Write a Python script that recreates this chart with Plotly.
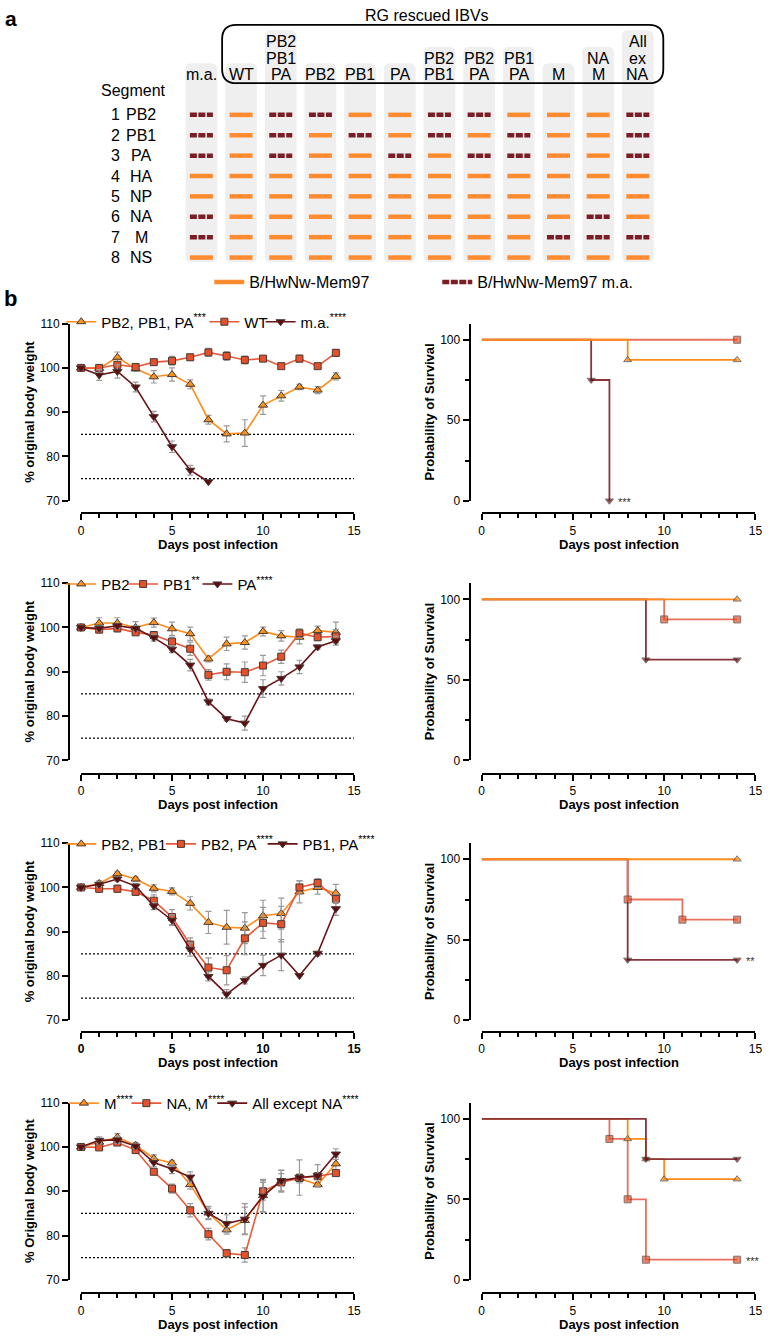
import plotly.graph_objects as go

W, H = 770, 1336
FONT = "Arial, Liberation Sans, sans-serif"

# ---------------- Panel a data ----------------
column_headers = [["m.a."], ["WT"], ["PB2", "PB1", "PA"], ["PB2"], ["PB1"], ["PA"],
                  ["PB2", "PB1"], ["PB2", "PA"], ["PB1", "PA"], ["M"], ["NA", "M"],
                  ["All", "ex", "NA"]]
segment_numbers = ["1", "2", "3", "4", "5", "6", "7", "8"]
segment_names = ["PB2", "PB1", "PA", "HA", "NP", "NA", "M", "NS"]
# 1 = segment from mouse-adapted virus (m.a.), 0 = parental B/HwNw-Mem97
ma_origin = [
    [1, 1, 1, 0, 0, 1, 1, 0],  # m.a.
    [0, 0, 0, 0, 0, 0, 0, 0],  # WT
    [1, 1, 1, 0, 0, 0, 0, 0],  # PB2 PB1 PA
    [1, 0, 0, 0, 0, 0, 0, 0],  # PB2
    [0, 1, 0, 0, 0, 0, 0, 0],  # PB1
    [0, 0, 1, 0, 0, 0, 0, 0],  # PA
    [1, 1, 0, 0, 0, 0, 0, 0],  # PB2 PB1
    [1, 0, 1, 0, 0, 0, 0, 0],  # PB2 PA
    [0, 1, 1, 0, 0, 0, 0, 0],  # PB1 PA
    [0, 0, 0, 0, 0, 0, 1, 0],  # M
    [0, 0, 0, 0, 0, 1, 1, 0],  # NA M
    [1, 1, 1, 0, 0, 0, 1, 0],  # All ex NA
]
legend_a = ["B/HwNw-Mem97", "B/HwNw-Mem97 m.a."]

# ---------------- Panel b data: body weight (mean, SEM) ----------------
days = list(range(15))

w1_names = ["PB2, PB1, PA<sup>***</sup>", "WT", "m.a.<sup>****</sup>"]
w1_a = [100, 99.9, 102.4, 99.8, 98.0, 98.5, 96.3, 88.3, 85.1, 85.3, 91.6, 93.7, 95.7, 95.0, 98.1]
e1_a = [0, 0.5, 1.2, 0.5, 1.4, 1.5, 1.0, 1.0, 1.8, 3.0, 2.1, 1.2, 0.6, 0.8, 0.8]
w1_b = [100, 100.0, 100.7, 100.2, 101.3, 101.6, 102.4, 103.5, 102.7, 101.8, 102.1, 100.4, 102.1, 100.4, 103.4]
e1_b = [0, 0.4, 0.6, 0.6, 0.5, 1.0, 0.7, 0.9, 1.0, 0.9, 0.6, 0.5, 0.8, 0.4, 0.8]
w1_c = [100, 98.4, 99.2, 95.7, 89.0, 82.2, 76.9, 74.3]
e1_c = [0, 1.2, 1.5, 1.1, 1.2, 1.3, 1.1, 0]

w2_names = ["PB2", "PB1<sup>**</sup>", "PA<sup>****</sup>"]
w2_a = [100, 101.0, 101.0, 100.0, 101.1, 99.7, 98.6, 92.9, 96.3, 96.6, 99.1, 98.1, 97.8, 99.3, 98.9]
e2_a = [0, 1.2, 1.2, 1.3, 1.0, 1.5, 1.5, 0.7, 1.5, 1.5, 1.0, 1.2, 1.5, 1.0, 2.3]
w2_b = [100, 99.5, 99.8, 98.9, 98.3, 96.8, 95.2, 89.3, 90.0, 89.9, 91.4, 93.4, 98.7, 97.8, 98.0]
e2_b = [0, 0.5, 0.8, 0.5, 0.6, 1.0, 1.5, 1.2, 1.8, 2.3, 2.3, 1.5, 1.0, 0.8, 1.5]
w2_c = [100, 99.8, 100.4, 99.8, 97.7, 95.1, 91.5, 83.2, 79.4, 78.4, 86.2, 88.5, 91.1, 95.6, 97.0]
e2_c = [0, 0.4, 0.5, 0.6, 0.8, 0.8, 1.3, 0.7, 0.5, 1.6, 2.0, 1.5, 1.5, 0.5, 1.0]

w3_names = ["PB2, PB1", "PB2, PA<sup>****</sup>", "PB1, PA<sup>****</sup>"]
w3_a = [100, 100.9, 103.1, 101.9, 99.8, 99.1, 96.4, 92.1, 91.0, 90.8, 93.6, 94.1, 99.0, 100.0, 98.7]
e3_a = [0, 0.6, 0.4, 0.5, 0.8, 0.8, 1.5, 2.5, 3.8, 3.5, 3.5, 3.5, 2.5, 1.5, 2.0]
w3_b = [100, 99.7, 99.7, 99.0, 97.0, 93.3, 87.1, 81.9, 81.3, 88.5, 92.0, 91.7, 100.0, 101.0, 97.4]
e3_b = [0, 0.8, 0.8, 0.8, 1.3, 1.7, 1.5, 2.2, 3.3, 3.7, 3.5, 4.0, 1.5, 1.0, 1.0]
w3_c = [100, 100.7, 101.9, 100.3, 95.8, 92.6, 86.0, 79.9, 75.9, 79.0, 82.4, 84.7, 80.1, 85.1, 95.2]
e3_c = [0, 0.5, 0.5, 0.6, 0.8, 1.2, 1.5, 1.0, 1.0, 0.8, 2.3, 3.5, 0, 0.5, 1.5]

w4_names = ["M<sup>****</sup>", "NA, M<sup>****</sup>", "All except NA<sup>****</sup>"]
w4_a = [100, 101.1, 102.2, 100.4, 97.4, 96.4, 91.5, 85.1, 81.3, 83.4, 89.0, 92.3, 92.9, 91.5, 96.2]
e4_a = [0, 0.8, 0.8, 0.6, 0.8, 0.6, 1.0, 1.5, 1.0, 3.0, 3.7, 2.5, 1.0, 0.5, 1.5]
w4_b = [100, 99.9, 101.0, 99.3, 94.4, 90.6, 85.7, 80.3, 76.0, 75.6, 90.0, 92.0, 93.0, 93.4, 94.1]
e4_b = [0, 0.4, 0.6, 0.7, 0.5, 1.0, 1.5, 1.3, 0.8, 1.6, 2.0, 2.0, 0.8, 0.5, 0.5]
w4_c = [100, 101.5, 101.6, 100.2, 96.5, 95.0, 93.2, 85.0, 82.7, 83.7, 88.9, 92.4, 93.1, 93.5, 98.4]
e4_c = [0, 0.8, 0.8, 0.5, 1.0, 1.0, 1.2, 1.2, 2.0, 3.5, 3.5, 2.3, 4.0, 2.5, 1.2]

# ---------------- Panel b data: survival (Kaplan-Meier steps) ----------------
s1_a_day, s1_a = [0, 8, 14], [100, 87.5, 87.5]
s1_b_day, s1_b = [0, 14], [100, 100]
s1_c_day, s1_c = [0, 6, 7], [100, 75, 0]

s2_a_day, s2_a = [0, 14], [100, 100]
s2_b_day, s2_b = [0, 10, 14], [100, 87.5, 87.5]
s2_c_day, s2_c = [0, 9, 14], [100, 62.5, 62.5]

s3_a_day, s3_a = [0, 14], [100, 100]
s3_b_day, s3_b = [0, 8, 11, 14], [100, 75, 62.5, 62.5]
s3_c_day, s3_c = [0, 8, 14], [100, 37.5, 37.5]

s4_a_day, s4_a = [0, 8, 9, 10, 14], [100, 87.5, 75, 62.5, 62.5]
s4_b_day, s4_b = [0, 7, 8, 9, 14], [100, 87.5, 50, 12.5, 12.5]
s4_c_day, s4_c = [0, 9, 14], [100, 75, 75]

survival_stars = ["***", "", "**", "***"]          # label text
survival_star_series = [2, None, 2, 1]             # which series carries it
weight_ytitles = ["% original body weight", "% original body weight",
                  "% original body weight", "% Original body weight"]

# ---------------- styling ----------------
ORANGE_BAR = "#FF8B30"
MAROON_BAR = "#7B1D25"
GREY_COL = "#EFEFEF"
LINE_COLORS = ["#FF8C1A", "#E8583A", "#6B1217"]
SURV_COLORS = ["#FF8C1A", "#E9705C", "#8A3538"]
FILL_COLORS = ["#F7931E", "#E4512B", "#5E0B10"]
SYMBOLS = ["triangle-up", "square", "triangle-down"]
MSIZE = [8, 7, 8]
OUTLINE = "#4A3A35"
ERR = "#9A9A9A"


def px_x(p):
    return p / W


def px_y(p):
    return 1 - p / H


fig = go.Figure()
layout = {}
annotations = []
shapes = []


def note(x, y, text, xref="paper", yref="paper", size=13, bold=False, **kw):
    f = dict(family=FONT, size=size, color=kw.pop("color", "black"))
    if bold:
        f["weight"] = "bold"
    d = dict(x=x, y=y, xref=xref, yref=yref, text=text, showarrow=False,
             xanchor=kw.pop("xanchor", "center"), yanchor=kw.pop("yanchor", "middle"), font=f)
    d.update(kw)
    annotations.append(d)


# ---------------- panel b geometry ----------------
row_top = [320, 582.3, 845, 1107.3]
row_xline = [511.7, 775, 1035.7, 1300]
PANEL_H = 179
LX0, LX1, LYAX = 79, 355.7, 67
RX0, RX1, RYAX = 485, 762.3, 472.7
legend_pos = [([80, 225, 282], 318.3), ([80, 142.7, 218], 583.3),
              ([80, 181, 284], 846), ([82.7, 146, 233], 1108)]

weights = [
    (w1_names, [(w1_a, e1_a), (w1_b, e1_b), (w1_c, e1_c)]),
    (w2_names, [(w2_a, e2_a), (w2_b, e2_b), (w2_c, e2_c)]),
    (w3_names, [(w3_a, e3_a), (w3_b, e3_b), (w3_c, e3_c)]),
    (w4_names, [(w4_a, e4_a), (w4_b, e4_b), (w4_c, e4_c)]),
]
survivals = [
    [(s1_a_day, s1_a), (s1_b_day, s1_b), (s1_c_day, s1_c)],
    [(s2_a_day, s2_a), (s2_b_day, s2_b), (s2_c_day, s2_c)],
    [(s3_a_day, s3_a), (s3_b_day, s3_b), (s3_c_day, s3_c)],
    [(s4_a_day, s4_a), (s4_b_day, s4_b), (s4_c_day, s4_c)],
]
# drawing order of survival curves (last = on top)
surv_order = [[2, 1, 0], [2, 1, 0], [2, 1, 0], [1, 0, 2]]

tickfont = dict(family=FONT, size=12, color="black")
legend_count = [0]


def new_legend(left_px, cy, size=15):
    legend_count[0] += 1
    n = legend_count[0]
    key = "legend" if n == 1 else f"legend{n}"
    layout[key] = dict(x=px_x(left_px), y=px_y(cy), xanchor="left", yanchor="middle",
                       orientation="h", bgcolor="rgba(0,0,0,0)", borderwidth=0,
                       font=dict(family=FONT, size=size, color="black"))
    return key


def axis_name(kind, k):
    return kind + ("axis" if k == 1 else f"axis{k}")


def ref(kind, k):
    return kind if k == 1 else f"{kind}{k}"


for r in range(4):
    T = row_top[r]
    B = T + PANEL_H
    XL = row_xline[r]
    kw, ks = 2 * r + 1, 2 * r + 2
    xtickfont = dict(tickfont, weight="bold") if r == 2 else tickfont

    # ---- weight axes ----
    layout[axis_name("x", kw)] = dict(
        domain=[px_x(LX0), px_x(LX1)], range=[0, 15], anchor="free", position=px_y(XL),
        showline=True, linecolor="black", linewidth=2, ticks="outside", tickcolor="black",
        tickwidth=2, ticklen=6, tickvals=[0, 5, 10, 15], showgrid=False, zeroline=False,
        tickfont=xtickfont,
        minor=dict(dtick=1, ticks="outside", ticklen=4, tickwidth=1.5, tickcolor="black", showgrid=False))
    layout[axis_name("y", kw)] = dict(
        domain=[px_y(B), px_y(T)], range=[70, 110], anchor="free", position=px_x(LYAX),
        showline=True, linecolor="black", linewidth=2, ticks="outside", tickcolor="black",
        tickwidth=2, ticklen=6, tickvals=[70, 80, 90, 100, 110], showgrid=False, zeroline=False,
        tickfont=tickfont)
    # ---- survival axes ----
    layout[axis_name("x", ks)] = dict(
        domain=[px_x(RX0), px_x(RX1)], range=[0, 15], anchor="free", position=px_y(XL),
        showline=True, linecolor="black", linewidth=2, ticks="outside", tickcolor="black",
        tickwidth=2, ticklen=6, tickvals=[0, 5, 10, 15], showgrid=False, zeroline=False,
        tickfont=tickfont,
        minor=dict(dtick=1, ticks="outside", ticklen=4, tickwidth=1.5, tickcolor="black", showgrid=False))
    layout[axis_name("y", ks)] = dict(
        domain=[px_y(B), px_y(T)], range=[0, 110], anchor="free", position=px_x(RYAX),
        showline=True, linecolor="black", linewidth=2, ticks="outside", tickcolor="black",
        tickwidth=2, ticklen=6, tickvals=[0, 50, 100], showgrid=False, zeroline=False,
        tickfont=tickfont,
        minor=dict(tickvals=[25, 75], ticks="outside", ticklen=4, tickwidth=1.5, tickcolor="black", showgrid=False))

    # threshold lines 85% and 75%
    for thr in (85, 75):
        shapes.append(dict(type="line", xref=ref("x", kw), yref=ref("y", kw), x0=0, x1=15,
                           y0=thr, y1=thr, line=dict(color="black", width=1.2, dash="2px,2px"),
                           layer="below"))

    names, series = weights[r]
    lxs, ly = legend_pos[r]
    for i, (vals, errs) in enumerate(series):
        lg = new_legend(lxs[i] - 21, ly)
        fig.add_trace(go.Scatter(
            x=days[:len(vals)], y=vals, name=names[i], mode="lines+markers",
            xaxis=ref("x", kw), yaxis=ref("y", kw), legend=lg, showlegend=True,
            cliponaxis=False,
            line=dict(color=LINE_COLORS[i], width=1.6),
            marker=dict(symbol=SYMBOLS[i], size=MSIZE[i], color=FILL_COLORS[i],
                        line=dict(color=OUTLINE, width=1)),
            error_y=dict(type="data", array=errs, color=ERR, thickness=1.2, width=3)))

    surv = survivals[r]
    for i in surv_order[r]:
        sd, sv = surv[i]
        fig.add_trace(go.Scatter(
            x=sd, y=sv, mode="lines+markers", line_shape="hv", showlegend=False,
            xaxis=ref("x", ks), yaxis=ref("y", ks), cliponaxis=False,
            line=dict(color=SURV_COLORS[i], width=1.8),
            marker=dict(symbol=SYMBOLS[i], size=[0] + [7] * (len(sd) - 1), color=FILL_COLORS[i],
                        line=dict(color=OUTLINE, width=1))))
    si = survival_star_series[r]
    if si is not None:
        sd, sv = surv[si]
        note(sd[-1], sv[-1], survival_stars[r], xref=ref("x", ks), yref=ref("y", ks), size=11,
             color="#333", xanchor="left", xshift=7, yshift=-1)

    # axis titles
    for cx in ((LX0 + LX1) / 2, (RX0 + RX1) / 2):
        note(px_x(cx), px_y(XL + 31), "Days post infection", bold=True)
    note(px_x(27), px_y(T + PANEL_H / 2), weight_ytitles[r], bold=True, textangle=-90)
    note(px_x(432), px_y(T + PANEL_H / 2), "Probability of Survival", bold=True, textangle=-90)

# ---------------- Panel a (own axis pair 9) ----------------
COL_X0, COL_DX = 201, 40.2       # pixel of first column, pixel per column
ROW_Y0, ROW_DY = 109, 20.6       # pixel of first segment row, pixel per row
A_BOTTOM = 290
xr0 = -COL_X0 / COL_DX
xr1 = xr0 + W / COL_DX
yr_top = -ROW_Y0 / ROW_DY
yr_bot = yr_top + A_BOTTOM / ROW_DY
layout["xaxis9"] = dict(domain=[0, 1], range=[xr0, xr1], visible=False, anchor="y9")
layout["yaxis9"] = dict(domain=[px_y(A_BOTTOM), 1], range=[yr_bot, yr_top], visible=False, anchor="x9")


def vy(p):
    return (p - ROW_Y0) / ROW_DY


def vx(p):
    return (p - COL_X0) / COL_DX


def rounded_path(x0, x1, y0, y1, rx, ry):
    return (f"M{x0 + rx},{y0} L{x1 - rx},{y0} Q{x1},{y0} {x1},{y0 + ry} "
            f"L{x1},{y1 - ry} Q{x1},{y1} {x1 - rx},{y1} L{x0 + rx},{y1} "
            f"Q{x0},{y1} {x0},{y1 - ry} L{x0},{y0 + ry} Q{x0},{y0} {x0 + rx},{y0} Z")


HEAD_BASE, HEAD_STEP = 68.3, 16.7
for i, lines in enumerate(column_headers):
    n = len(lines)
    top_px = HEAD_BASE - HEAD_STEP * (n - 1) - 11.5
    shapes.append(dict(type="path", xref="x9", yref="y9",
                       path=rounded_path(i - 0.4, i + 0.4, vy(top_px), vy(258), 0.16, 0.3),
                       fillcolor=GREY_COL, line=dict(width=0), layer="below"))
    for k, t in enumerate(lines):
        note(i, vy(HEAD_BASE - HEAD_STEP * (n - 1 - k)), t, xref="x9", yref="y9", size=16)

# rounded box around RG rescued IBVs
shapes.append(dict(type="path", xref="x9", yref="y9",
                   path=rounded_path(vx(222), vx(669), vy(18), vy(77), 0.36, 0.7),
                   line=dict(color="black", width=1.8), fillcolor="rgba(0,0,0,0)", layer="above"))
note(vx(430), vy(9), "RG rescued IBVs", xref="x9", yref="y9", size=16)
note(vx(132), vy(84), "Segment", xref="x9", yref="y9", size=16)
for j in range(len(segment_names)):
    note(vx(114), j, segment_numbers[j], xref="x9", yref="y9", size=16)
    note(vx(140), j, segment_names[j], xref="x9", yref="y9", size=16)

HALF = 0.29
bx = {0: [], 1: []}
by = {0: [], 1: []}
for i, col in enumerate(ma_origin):
    for j, v in enumerate(col):
        bx[v] += [i - HALF, i + HALF, None]
        by[v] += [j, j, None]

lg_o = new_legend(209, 278, size=16)
fig.add_trace(go.Scatter(x=bx[0], y=by[0], mode="lines", name=legend_a[0], xaxis="x9", yaxis="y9",
                         legend=lg_o, line=dict(color=ORANGE_BAR, width=4.5)))
lg_m = new_legend(440, 278, size=16)
fig.add_trace(go.Scatter(x=bx[1], y=by[1], mode="lines", name=legend_a[1], xaxis="x9", yaxis="y9",
                         legend=lg_m, line=dict(color=MAROON_BAR, width=4.5, dash="7px,1.5px")))

# panel letters
note(px_x(8), px_y(12), "a", size=21, bold=True)
note(px_x(8), px_y(295), "b", size=22, bold=True)

layout.update(dict(width=W, height=H, autosize=False, margin=dict(l=0, r=0, t=0, b=0),
                   paper_bgcolor="white", plot_bgcolor="rgba(0,0,0,0)",
                   font=dict(family=FONT, color="black"),
                   annotations=annotations, shapes=shapes, showlegend=True))
fig.update_layout(**layout)
fig.write_html("out.html")
